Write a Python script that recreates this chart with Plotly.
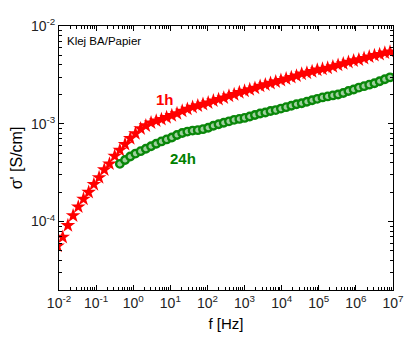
import plotly.graph_objects as go

# log10 of frequency [Hz] for each measured point
log_f_1h = [-2.04, -1.90, -1.76, -1.62, -1.48, -1.34, -1.20, -1.06, -0.92, -0.78,
            -0.64, -0.50, -0.36, -0.22, -0.08, 0.06, 0.20, 0.34, 0.48, 0.62,
            0.76, 0.90, 1.04, 1.18, 1.32, 1.46, 1.60, 1.74, 1.88, 2.02,
            2.16, 2.30, 2.44, 2.58, 2.72, 2.86, 3.00, 3.14, 3.28, 3.42,
            3.56, 3.70, 3.84, 3.98, 4.12, 4.26, 4.40, 4.54, 4.68, 4.82,
            4.96, 5.10, 5.24, 5.38, 5.52, 5.66, 5.80, 5.94, 6.08, 6.22,
            6.36, 6.50, 6.64, 6.78, 6.92]
# log10 of sigma' [S/cm], 1h
log_s_1h = [-4.25, -4.16, -4.04, -3.94, -3.85, -3.77, -3.70, -3.62, -3.55, -3.47,
            -3.41, -3.33, -3.27, -3.21, -3.15, -3.10, -3.05, -3.02, -2.99, -2.97,
            -2.955, -2.935, -2.915, -2.895, -2.87, -2.85, -2.83, -2.815, -2.80, -2.785,
            -2.765, -2.75, -2.735, -2.715, -2.70, -2.68, -2.665, -2.65, -2.635, -2.615,
            -2.60, -2.585, -2.57, -2.555, -2.54, -2.525, -2.51, -2.49, -2.48, -2.465,
            -2.45, -2.44, -2.43, -2.415, -2.40, -2.385, -2.37, -2.355, -2.345, -2.33,
            -2.315, -2.30, -2.29, -2.275, -2.265]

log_f_24h = [-0.36, -0.22, -0.08, 0.06, 0.20, 0.34, 0.48, 0.62,
             0.76, 0.90, 1.04, 1.18, 1.32, 1.46, 1.60, 1.74, 1.88, 2.02,
             2.16, 2.30, 2.44, 2.58, 2.72, 2.86, 3.00, 3.14, 3.28, 3.42,
             3.56, 3.70, 3.84, 3.98, 4.12, 4.26, 4.40, 4.54, 4.68, 4.82,
             4.96, 5.10, 5.24, 5.38, 5.52, 5.66, 5.80, 5.94, 6.08, 6.22,
             6.36, 6.50, 6.64, 6.78, 6.92]
log_s_24h = [-3.41, -3.37, -3.335, -3.305, -3.28, -3.255, -3.23, -3.205,
             -3.18, -3.16, -3.14, -3.115, -3.095, -3.08, -3.07, -3.065, -3.055, -3.04,
             -3.02, -3.005, -2.99, -2.975, -2.96, -2.95, -2.94, -2.925, -2.91, -2.895,
             -2.885, -2.87, -2.86, -2.845, -2.83, -2.815, -2.80, -2.79, -2.775, -2.76,
             -2.745, -2.73, -2.72, -2.71, -2.70, -2.685, -2.665, -2.65, -2.63, -2.615,
             -2.60, -2.585, -2.565, -2.545, -2.525]

x_ticks = [-2, -1, 0, 1, 2, 3, 4, 5, 6, 7]
y_ticks = [-4, -3, -2]

fig = go.Figure()
fig.add_trace(go.Scatter(
    x=[10 ** v for v in log_f_1h], y=[10 ** v for v in log_s_1h],
    mode="markers", name="1h",
    marker=dict(symbol="star", size=11, color="#ff0000", line=dict(width=0)),
))
fig.add_trace(go.Scatter(
    x=[10 ** v for v in log_f_24h], y=[10 ** v for v in log_s_24h],
    mode="markers", name="24h",
    marker=dict(symbol="circle", size=7.5, color="#9fd09f", line=dict(width=2.4, color="#0a870a")),
))

minor_x = [m * 10.0 ** d for d in range(-2, 7) for m in range(2, 10)]
minor_y = [m * 10.0 ** d for d in range(-5, -2) for m in range(2, 10)]

axis_common = dict(
    showline=True, linecolor="black", linewidth=1, mirror="ticks",
    ticks="inside", ticklen=5, tickwidth=1, tickcolor="black",
    showgrid=False, zeroline=False,
    tickfont=dict(family="Liberation Sans, Arial", size=14, color="#222"),
)

fig.update_layout(
    width=416, height=341,
    margin=dict(l=59, r=13, t=26, b=45),
    paper_bgcolor="white", plot_bgcolor="white",
    showlegend=False,
    font=dict(family="Liberation Sans, Arial", color="black"),
    xaxis=dict(
        type="log", range=[-2, 7],
        tickvals=[10.0 ** t for t in x_ticks],
        ticktext=["10<sup>%d</sup>" % t for t in x_ticks],
        minor=dict(tickvals=minor_x, ticks="inside", ticklen=3, tickcolor="black", showgrid=False),
        title=dict(text="f [Hz]", font=dict(size=15), standoff=8),
        **axis_common,
    ),
    yaxis=dict(
        type="log", range=[-4.7, -2],
        tickvals=[10.0 ** t for t in y_ticks],
        ticktext=["10<sup>%d</sup>" % t for t in y_ticks],
        minor=dict(tickvals=minor_y, ticks="inside", ticklen=3, tickcolor="black", showgrid=False),
        title=dict(text="σ' [S/cm]", font=dict(size=16), standoff=4),
        **axis_common,
    ),
    annotations=[
        dict(text="Klej BA/Papier", xref="paper", yref="paper", x=0.018, y=0.942,
             xanchor="left", yanchor="middle", showarrow=False,
             font=dict(size=11.5, color="black")),
        dict(text="<b>1h</b>", xref="x", yref="y", x=0.85, y=-2.75,
             showarrow=False, font=dict(size=15, color="#ff0000")),
        dict(text="<b>24h</b>", xref="x", yref="y", x=1.33, y=-3.35,
             showarrow=False, font=dict(size=15, color="#008000")),
    ],
)

fig.write_html("out.html")
